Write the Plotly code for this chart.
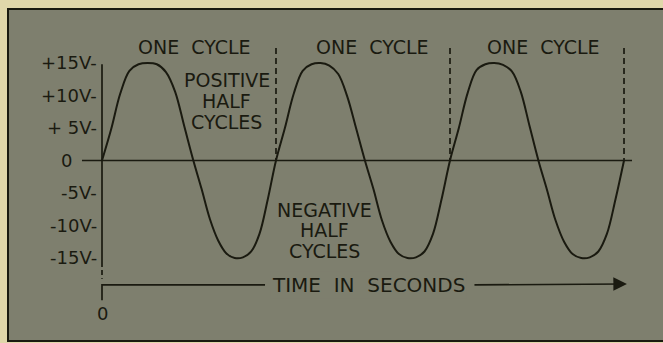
import plotly.graph_objects as go

# Waveform: time in cycles, voltage in volts, sampled along each half cycle
wave_t = [0.0, 0.0525, 0.105, 0.1575, 0.21, 0.2625, 0.315, 0.3675, 0.42, 0.4725,
          0.525, 0.5725, 0.62, 0.6675, 0.715, 0.7625, 0.81, 0.8575, 0.905, 0.9525,
          1.0, 1.0511, 1.1022, 1.1533, 1.2044, 1.2555, 1.3066, 1.3577, 1.4088, 1.4599,
          1.511, 1.5599, 1.6088, 1.6577, 1.7066, 1.7555, 1.8044, 1.8533, 1.9022, 1.9511,
          2.0, 2.0508, 2.1016, 2.1524, 2.2032, 2.254, 2.3048, 2.3556, 2.4064, 2.4572,
          2.508, 2.5572, 2.6064, 2.6556, 2.7048, 2.754, 2.8032, 2.8524, 2.9016, 2.9508,
          3.0]
wave_v = [0.0, 4.8, 10.3, 13.8, 14.8, 15.0, 14.8, 13.6, 10.6, 5.3,
          0.0, -4.4, -9.0, -12.3, -14.3, -15.0, -14.9, -14.0, -11.3, -6.0,
          0.0, 5.0, 10.3, 13.8, 14.8, 15.0, 14.6, 13.3, 9.9, 5.0,
          0.0, -4.4, -9.2, -12.5, -14.4, -15.0, -14.9, -14.0, -11.3, -6.0,
          0.0, 5.0, 10.4, 13.9, 14.8, 15.0, 14.7, 13.7, 10.6, 5.3,
          0.0, -4.5, -9.2, -12.5, -14.4, -15.0, -14.9, -14.0, -11.3, -6.0,
          0.0]

# Voltage scale labels
tick_vals = [15, 10, 5, -5, -10, -15]
tick_text = ["+15V-", "+10V-", "+ 5V-", "-5V-", "-10V-", "-15V-"]

# Cycle boundaries and cycle captions
cycle_bounds = [1, 2, 3]
cycle_label_t = [0.534, 1.552, 2.54]
cycle_label = "ONE  CYCLE"

INK = "#1a1a10"
PANEL = "#7e7f6e"
PAPER = "#e0d7aa"
FONT = "DejaVu Sans"

X_RANGE = [-0.5862, 3.2241]
Y_RANGE = [-28.08, 24.69]

fig = go.Figure()

# zero-volt reference line
fig.add_trace(go.Scatter(x=[-0.115, 3.046], y=[0, 0], mode="lines",
                         line=dict(color=INK, width=1.7), hoverinfo="skip"))
# voltage axis (solid part, then dashed tail)
fig.add_trace(go.Scatter(x=[0, 0], y=[14.8, -15.6], mode="lines",
                         line=dict(color=INK, width=1.7), hoverinfo="skip"))
fig.add_trace(go.Scatter(x=[0, 0], y=[-15.6, -18.2], mode="lines",
                         line=dict(color=INK, width=1.7, dash="5px,3px"),
                         hoverinfo="skip"))
# dashed cycle boundaries
for b in cycle_bounds:
    fig.add_trace(go.Scatter(x=[b, b], y=[17.3, 0], mode="lines",
                             line=dict(color=INK, width=1.7, dash="6px,4px"),
                             hoverinfo="skip"))
# sine wave
fig.add_trace(go.Scatter(x=wave_t, y=wave_v, mode="lines",
                         line=dict(color=INK, width=2, shape="spline",
                                   smoothing=1.0),
                         hoverinfo="skip"))
# time axis: start tick and left segment
fig.add_trace(go.Scatter(x=[0, 0, 0.937], y=[-21.5, -19.15, -19.15],
                         mode="lines", line=dict(color=INK, width=1.7),
                         hoverinfo="skip"))

annotations = []
# time arrow (right segment with head)
annotations.append(dict(x=3.017, y=-19.0, ax=2.132, ay=-19.15,
                        xref="x", yref="y", axref="x", ayref="y",
                        showarrow=True, arrowhead=2, arrowsize=1.6,
                        arrowwidth=1.7, arrowcolor=INK, text=""))

tick_font = dict(family=FONT, size=18, color=INK)
label_font = dict(family=FONT, size=19, color=INK)
for tv, tt in zip(tick_vals, tick_text):
    annotations.append(dict(x=-0.02, y=tv, xref="x", yref="y", text=tt,
                            showarrow=False, xanchor="right", yanchor="middle",
                            font=tick_font))
annotations.append(dict(x=-0.16, y=0, xref="x", yref="y", text="0",
                        showarrow=False, xanchor="right", yanchor="middle",
                        font=tick_font))
for t in cycle_label_t:
    annotations.append(dict(x=t, y=17.5, xref="x", yref="y", text=cycle_label,
                            showarrow=False, font=label_font))

# stacked captions, one line each
for i, word in enumerate(["POSITIVE", "HALF", "CYCLES"]):
    annotations.append(dict(x=0.718, y=12.4 - i * 3.25, xref="x", yref="y",
                            text=word, showarrow=False, font=label_font))
for i, word in enumerate(["NEGATIVE", "HALF", "CYCLES"]):
    annotations.append(dict(x=1.276, y=-7.6 - i * 3.15, xref="x", yref="y",
                            text=word, showarrow=False, font=label_font))

annotations.append(dict(x=1.534, y=-19.15, xref="x", yref="y",
                        text="TIME  IN  SECONDS", showarrow=False,
                        font=dict(family=FONT, size=20, color=INK),
                        bgcolor=PANEL))
annotations.append(dict(x=0, y=-23.5, xref="x", yref="y", text="0",
                        showarrow=False, font=tick_font))

fig.update_layout(
    width=663, height=343,
    margin=dict(l=0, r=0, t=0, b=0),
    paper_bgcolor=PAPER,
    plot_bgcolor="rgba(0,0,0,0)",
    showlegend=False,
    xaxis=dict(range=X_RANGE, visible=False, fixedrange=True),
    yaxis=dict(range=Y_RANGE, visible=False, fixedrange=True),
    annotations=annotations,
    shapes=[dict(type="rect", xref="paper", yref="paper",
                 x0=8 / 663, x1=1.05, y0=1 - 341 / 343, y1=1 - 9 / 343,
                 fillcolor=PANEL, line=dict(color=INK, width=2),
                 layer="below")],
)

fig.write_html("out.html")
